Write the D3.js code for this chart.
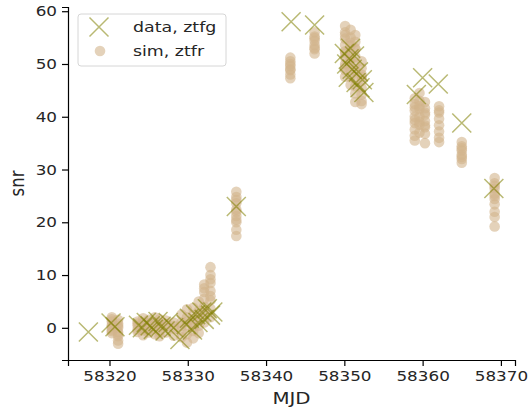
<!DOCTYPE html>
<meta charset="utf-8">
<style>
body { margin: 0; background: #fff; }
text { font-family: "DejaVu Sans", sans-serif; fill: #262626; }
.tick text { font-size: 14px; transform-box: fill-box; transform: scaleX(1.2); }
.x .tick text { transform-origin: center; }
.y .tick text { transform-origin: right center; }
.leg text { font-size: 14.5px; transform-box: fill-box; transform-origin: left center; transform: scaleX(1.2); }
.domain, .tick line { stroke: #000; stroke-width: 1.2; }
</style>
<body>
<script src="https://d3js.org/d3.v7.min.js"></script>
<script>

const width = 529,
    height = 408,
    margin = {left: 68, right: 14, top: 7, bottom: 48}

// observed points (ztfg)
var dataMJD = [58317.3, 58320.2, 58320.7, 58323.7, 58324.2, 58324.7, 58325.2, 58325.6, 58326.2, 58326.6,
    58327.1, 58327.5, 58328.2, 58329.0, 58329.8, 58330.2, 58330.6, 58331.0, 58331.3, 58331.8,
    58332.1, 58332.5, 58332.9, 58333.2, 58336.2, 58343.2, 58346.2, 58350.0, 58350.3, 58350.5,
    58350.6, 58350.8, 58351.0, 58351.3, 58351.5, 58351.8, 58352.0, 58352.3, 58352.5,
    58359.2, 58360.0, 58362.0, 58365.0, 58369.1]
var dataSNR = [-0.8, 0.9, 0.2, 0.5, 0.0, 1.0, 0.4, -0.3, 1.2, 0.3,
    -0.6, 1.0, 0.0, -2.2, 0.6, 1.8, -0.4, 2.5, 1.0, 3.0,
    1.6, 3.6, 2.4, 3.0, 23.0, 58.0, 57.4, 52.0, 50.0, 47.5,
    51.0, 53.0, 49.0, 51.5, 46.5, 48.5, 45.5, 47.0, 44.6,
    44.2, 47.4, 46.2, 38.8, 26.4]

// simulated points (ztfr), one column of snr values per epoch
var simMJD = [58320.3, 58321.1, 58323.6, 58324.3, 58325.0, 58325.8, 58326.4, 58327.2, 58328.2, 58329.2,
    58329.9, 58330.7, 58331.4, 58332.1, 58332.9, 58336.2, 58343.1, 58346.2, 58350.1, 58350.8,
    58351.4, 58352.2, 58359.0, 58359.6, 58360.3, 58362.1, 58365.0, 58369.2]
var simSNR = [
    [2.0, 1.2, 0.5, -0.3, -1.0, 1.6, 0.1, -0.6],
    [1.5, 0.8, 0.0, -0.8, -1.6, -2.4, -3.0, 0.4, -1.2],
    [1.2, 0.4, -0.3, 0.8, -0.8],
    [1.8, 0.6, -0.5, -1.4, 1.0, 0.0],
    [1.5, 0.2, -0.9, 0.9, -0.3],
    [2.0, 1.0, -0.2, -1.2, 0.5],
    [1.6, 0.3, -0.8, -1.6, 0.9],
    [1.4, 0.2, -0.9, 0.7],
    [1.0, -0.2, -1.5, 0.4],
    [2.5, 1.0, -0.5, -1.8, 0.3],
    [3.5, 2.0, 0.5, -1.2, -2.8, 1.2],
    [3.8, 2.4, 1.0, -0.6, -2.0, 0.2, 1.6],
    [5.0, 3.2, 1.8, 0.4, -1.0, 2.5],
    [8.2, 6.8, 5.5, 4.0, 2.6, 1.0, 7.5, 3.2],
    [11.5, 10.0, 8.5, 7.0, 5.2, 3.6, 2.0, 9.2, 6.0],
    [25.8, 24.8, 23.6, 22.4, 21.2, 20.0, 18.6, 17.4, 24.2, 22.0, 20.5],
    [51.2, 50.5, 49.6, 48.8, 48.0, 47.3, 50.0, 49.0],
    [56.0, 55.2, 54.4, 53.6, 52.8, 52.0, 54.9, 53.1],
    [57.2, 56.0, 54.8, 53.6, 52.4, 51.2, 50.0, 48.8, 47.6, 55.5, 52.0, 49.5],
    [56.5, 55.0, 53.5, 52.0, 50.5, 49.0, 47.5, 46.0, 54.0, 51.0],
    [55.5, 54.2, 52.8, 51.4, 50.0, 48.6, 47.2, 45.8, 44.4, 42.8, 53.0, 49.0],
    [50.5, 49.2, 48.0, 46.8, 45.5, 44.2, 43.0, 42.4, 47.5],
    [43.5, 42.4, 41.2, 40.0, 38.8, 37.6, 36.4, 35.5, 41.8, 39.4],
    [44.5, 43.0, 41.5, 40.0, 38.5, 37.0, 42.0, 39.0],
    [42.8, 41.6, 40.4, 39.2, 38.0, 36.8, 35.0, 40.8, 38.4],
    [42.0, 40.8, 39.6, 38.4, 37.2, 36.0, 35.2, 41.2],
    [35.2, 34.4, 33.6, 32.8, 32.0, 31.3, 34.0, 32.4],
    [28.4, 27.4, 26.4, 25.4, 24.4, 23.4, 22.0, 21.0, 19.2, 26.9, 25.0]
]

var xTicks = [58320, 58330, 58340, 58350, 58360, 58370]
var yTicks = [0, 10, 20, 30, 40, 50, 60]
var legendLabels = ['data, ztfg', 'sim, ztfr']

var simColor = '#d2b48c',
    dataColor = '#808000'

var svg = d3.select('body')
    .append('svg')
    .attr('width', width)
    .attr('height', height)

var x = d3.scaleLinear()
    .domain([58314.7, 58371.8])
    .range([margin.left, width - margin.right])

var y = d3.scaleLinear()
    .domain([-6.1, 60.8])
    .range([height - margin.bottom, margin.top])

var sim = []
simMJD.forEach(function (m, i) {
    simSNR[i].forEach(function (s) { sim.push({mjd: m, snr: s}) })
})
var data = dataMJD.map(function (m, i) { return {mjd: m, snr: dataSNR[i]} })

svg.append('g')
    .selectAll('circle')
    .data(sim)
    .enter().append('circle')
    .attr('cx', function (d) { return x(d.mjd) })
    .attr('cy', function (d) { return y(d.snr) })
    .attr('r', 5.3)
    .style('fill', simColor)
    .style('fill-opacity', 0.6)

function cross(sel, s) {
    sel.attr('d', 'M' + (-s) + ',' + (-s) + 'L' + s + ',' + s + 'M' + (-s) + ',' + s + 'L' + s + ',' + (-s))
        .style('fill', 'none')
        .style('stroke', dataColor)
        .style('stroke-opacity', 0.55)
        .style('stroke-width', 1.5)
}

svg.append('g')
    .selectAll('path')
    .data(data)
    .enter().append('path')
    .attr('transform', function (d) { return 'translate(' + x(d.mjd) + ',' + y(d.snr) + ')' })
    .call(cross, 9.5)

svg.append('g')
    .attr('class', 'x')
    .attr('transform', 'translate(0,' + (height - margin.bottom) + ')')
    .call(d3.axisBottom(x).tickValues(xTicks).tickFormat(d3.format('d')).tickSizeOuter(0).tickSize(6).tickPadding(5))

svg.append('g')
    .attr('class', 'y')
    .attr('transform', 'translate(' + margin.left + ',0)')
    .call(d3.axisLeft(y).tickValues(yTicks).tickSizeOuter(0).tickSize(6).tickPadding(5))

svg.selectAll('.x .tick text, .y .tick text').attr('fill', '#262626')

svg.append('text')
    .attr('transform', 'translate(' + ((margin.left + width - margin.right) / 2) + ',404) scale(1.2,1)')
    .attr('text-anchor', 'middle')
    .style('font-size', '16.5px')
    .text('MJD')

svg.append('text')
    .attr('transform', 'translate(24,' + ((margin.top + height - margin.bottom) / 2) + ') scale(1.2,1) rotate(-90)')
    .attr('text-anchor', 'middle')
    .style('font-size', '16.5px')
    .text('snr')

// legend
var leg = svg.append('g').attr('class', 'leg')

leg.append('rect')
    .attr('x', 78).attr('y', 14)
    .attr('width', 148).attr('height', 52)
    .attr('rx', 3)
    .style('fill', '#fff')
    .style('fill-opacity', 0.8)
    .style('stroke', '#d6d6d6')

leg.append('path')
    .attr('transform', 'translate(99,27)')
    .call(cross, 9.5)

leg.append('circle')
    .attr('cx', 100).attr('cy', 51).attr('r', 5.3)
    .style('fill', simColor)
    .style('fill-opacity', 0.6)

leg.selectAll('text')
    .data(legendLabels)
    .enter().append('text')
    .attr('x', 133)
    .attr('y', function (d, i) { return 32 + i * 24 })
    .text(function (d) { return d })

</script>
</body>
